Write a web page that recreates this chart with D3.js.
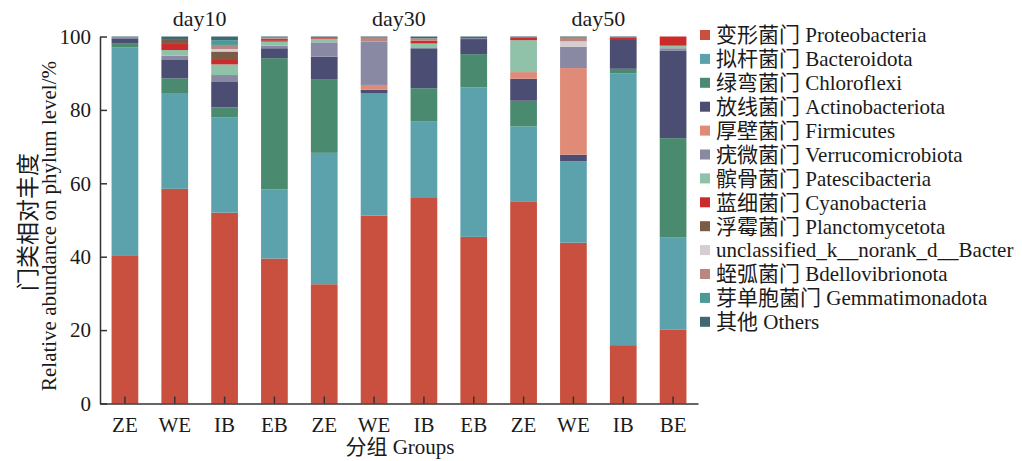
<!DOCTYPE html>
<html><head><meta charset="utf-8">
<script src="https://cdn.jsdelivr.net/npm/d3@7"></script>
<style>
body{margin:0;background:#fff;}
svg{display:block;}
text{font-family:"Liberation Serif","Noto Sans CJK SC",serif;fill:#1a1a1a;}
</style></head>
<body><svg id="c" width="1022" height="461"></svg>
<script>
const samples = ["ZE","WE","IB","EB","ZE","WE","IB","EB","ZE","WE","IB","BE"];
const days = ["day10","day30","day50"];
const yTicks = [0,20,40,60,80,100];
const seriesNames = ["变形菌门 Proteobacteria","拟杆菌门 Bacteroidota","绿弯菌门 Chloroflexi","放线菌门 Actinobacteriota","厚壁菌门 Firmicutes","疣微菌门 Verrucomicrobiota","髌骨菌门 Patescibacteria","蓝细菌门 Cyanobacteria","浮霉菌门 Planctomycetota","unclassified_k__norank_d__Bacter","蛭弧菌门 Bdellovibrionota","芽单胞菌门 Gemmatimonadota","其他 Others"];
const colors = ["#c9503e","#5ba2ad","#4a8b6f","#4b4d73","#e08b77","#8a89a3","#8fc2a9","#cc2b2b","#7b5a46","#d5cdcf","#b98680","#4b9a96","#3f6872"];
const proteobacteria    = [40.2,58.5,52.0,39.5,32.5,51.2,56.0,45.4,55.1,43.8,15.9,20.2];
const bacteroidota      = [56.8,25.9,25.9,18.8,35.8,33.4,20.8,40.7,20.4,22.2,74.1,25.0];
const chloroflexi       = [1.2,4.2,2.8,35.8,20.1,0,9.1,9.1,7.0,0,1.2,27.1];
const actinobacteriota  = [1.3,5.0,6.9,2.7,6.1,0.9,10.9,4.1,6.0,1.8,8.1,23.9];
const firmicutes        = [0,0,0,0,0,1.3,0,0,1.8,23.6,0,0];
const verrucomicrobiota = [0.3,1.2,1.9,0.7,3.9,11.8,0,0.3,0,5.8,0,0.6];
const patescibacteria   = [0,1.5,2.9,1.1,1.0,0,1.3,0,8.7,0,0,0.7];
const cyanobacteria     = [0,1.9,1.2,0.4,0.4,0,0.8,0,0.7,0,0.4,2.5];
const planctomycetota   = [0,1.1,2.3,0.4,0,0,0,0,0,0,0,0];
const unclassified      = [0,0,0.7,0,0,0,0,0,0,1.5,0,0];
const bdellovibrionota  = [0,0,1.1,0.3,0,1.1,0.6,0,0,1.0,0,0];
const gemmatimonadota   = [0,0,1.3,0,0,0,0,0,0,0,0,0];
const others            = [0.2,0.7,1.0,0.3,0.2,0.3,0.5,0.4,0.3,0.3,0.3,0];

const seriesValues = [proteobacteria,bacteroidota,chloroflexi,actinobacteriota,firmicutes,verrucomicrobiota,patescibacteria,cyanobacteria,planctomycetota,unclassified,bdellovibrionota,gemmatimonadota,others];

const svg = d3.select("#c");
const ids = samples.map((s,i)=>i);
const rows = ids.map(i => { const r = {id:i}; seriesValues.forEach((arr,k)=>{ r["s"+k]=arr[i]; }); return r; });
const keys = seriesValues.map((a,k)=>"s"+k);
const stack = d3.stack().keys(keys)(rows);

const x = d3.scaleBand().domain(ids).range([100,698]).paddingInner(0.464).paddingOuter(0.232);
const y = d3.scaleLinear().domain([0,100]).range([403.5,36.5]);

stack.forEach((layer,k)=>{
  svg.append("g").attr("fill",colors[k]).selectAll("rect").data(layer).join("rect")
    .attr("x",d=>x(d.data.id)).attr("width",x.bandwidth())
    .attr("y",d=>y(d[1])).attr("height",d=>Math.max(0,y(d[0])-y(d[1])));
});

// y axis
const ya = svg.append("g").attr("transform","translate(100,0)")
  .call(d3.axisLeft(y).tickValues(yTicks).tickSizeInner(-7).tickSizeOuter(0).tickPadding(9));
ya.select(".domain").attr("stroke","#333").attr("stroke-width",1.5);
ya.selectAll(".tick line").attr("stroke","#333").attr("stroke-width",1.5);
ya.selectAll(".tick text").attr("font-size",21).attr("font-family","Liberation Serif").attr("fill","#1a1a1a");

// x axis
const xa = svg.append("g").attr("transform","translate(0,403.5)")
  .call(d3.axisBottom(x).tickFormat(i=>samples[i]).tickSizeInner(-7).tickSizeOuter(0).tickPadding(14));
xa.select(".domain").attr("stroke","#333").attr("stroke-width",1.5);
xa.selectAll(".tick line").attr("stroke","#333").attr("stroke-width",1.5);
xa.selectAll(".tick text").attr("font-size",21).attr("font-family","Liberation Serif").attr("fill","#1a1a1a");

// day labels
days.forEach((d,g)=>{
  const cx = (x(g*4+1)+x(g*4+2)+x.bandwidth())/2;
  svg.append("text").attr("x",cx).attr("y",26).attr("text-anchor","middle").attr("font-size",22).text(d);
});

// axis titles
svg.append("text").attr("x",400).attr("y",454).attr("text-anchor","middle").attr("font-size",21).text("分组 Groups");
svg.append("text").attr("transform","translate(36,222) rotate(-90)").attr("text-anchor","middle").attr("font-size",23).text("门类相对丰度");
svg.append("text").attr("transform","translate(56,226) rotate(-90)").attr("text-anchor","middle").attr("font-size",21).text("Relative abundance on phylum level/%");

// legend
const lg = svg.append("g");
seriesNames.forEach((n,k)=>{
  const cy = 35 + k*23.9;
  lg.append("rect").attr("x",700).attr("y",cy-5).attr("width",10).attr("height",10).attr("fill",colors[k]);
  lg.append("text").attr("x",716).attr("y",cy).attr("dy","0.35em").attr("font-size",21).text(n);
});
</script></body></html>
